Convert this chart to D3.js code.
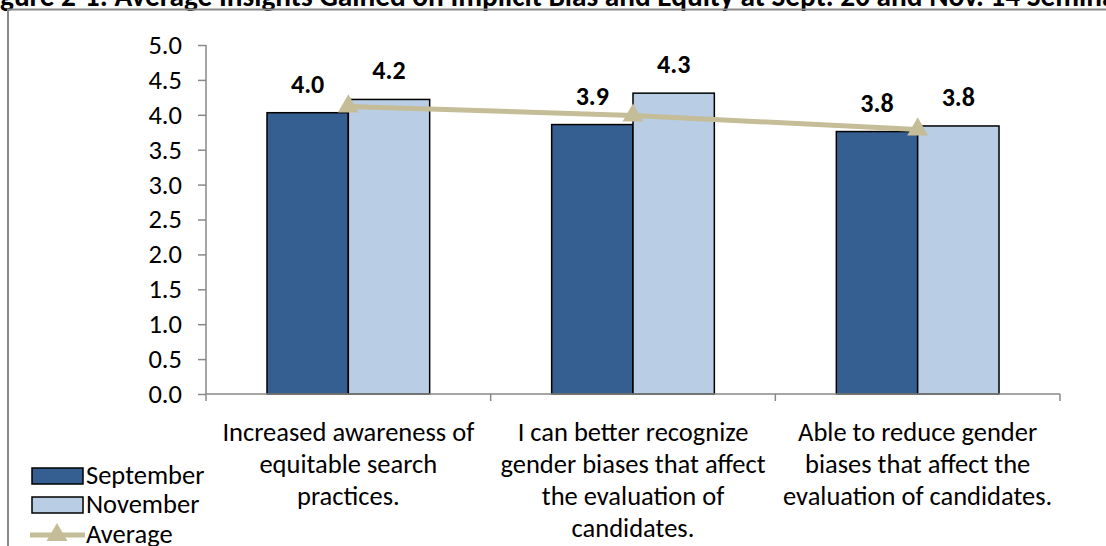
<!DOCTYPE html>
<html>
<head>
<meta charset="utf-8">
<script src="https://cdn.jsdelivr.net/npm/d3@7/dist/d3.min.js"></script>
<style>
  html, body { margin: 0; padding: 0; background: #fff; }
  svg { display: block; }
  text { font-family: Carlito, Calibri, Lato, "Open Sans", sans-serif; fill: #000; }
</style>
</head>
<body>
<svg id="chart" width="1106" height="546"></svg>
<script>
// Survey items (category axis)
const categories = [
  ["Increased awareness of", "equitable search", "practices."],
  ["I can better recognize", "gender biases that affect", "the evaluation of", "candidates."],
  ["Able to reduce gender", "biases that affect the", "evaluation of candidates."]
];
const seriesNames = ["September", "November", "Average"];
const september = [4.03, 3.86, 3.76];
const november  = [4.22, 4.31, 3.84];
const average   = [4.12, 3.99, 3.79];
const yTicks = [0, 0.5, 1, 1.5, 2, 2.5, 3, 3.5, 4, 4.5, 5];
const titleText = "Figure 2-1: Average Insights Gained on Implicit Bias and Equity at Sept. 20 and Nov. 14 Seminars";

const colors = { sep: "#365F91", nov: "#B9CDE5", avg: "#C4BD97", axis: "#898989" };
const fs = { title: 29.3, tick: 26.5, cat: 26.5, value: 26, legend: 26.5 };

const svg = d3.select("#chart");
const plot = { left: 206, right: 1060, top: 45, bottom: 394 };

// Title (runs past the top and sides of the frame)
const title = svg.append("text")
  .attr("y", 6)
  .attr("font-size", fs.title)
  .attr("font-weight", "bold")
  .text(titleText);
const probe = svg.append("text").attr("font-size", fs.title).attr("font-weight", "bold").text("Fi");
const cut = probe.node().getComputedTextLength();
probe.remove();
title.attr("x", -cut);

// Frame
svg.append("path")
  .attr("d", "M8,546 L8,9.5 L1106,9.5")
  .attr("fill", "none")
  .attr("stroke", colors.axis)
  .attr("stroke-width", 2);

const keys = categories.map((c, i) => "c" + i);
const x = d3.scaleBand().domain(keys).range([plot.left, plot.right]).paddingInner(0).paddingOuter(0);
const y = d3.scaleLinear().domain([0, 5]).range([plot.bottom, plot.top]);

// Bars sit in a group 1/1.75 of the band (75% gap width)
const groupW = x.bandwidth() / 1.75;
const xs = d3.scaleBand().domain(["sep", "nov"]).range([0, groupW]).padding(0);

// Y axis
const yAxis = svg.append("g")
  .attr("transform", `translate(${plot.left},0)`)
  .call(d3.axisLeft(y).tickValues(yTicks).tickSize(8).tickPadding(16).tickFormat(d3.format(".1f")));
yAxis.select(".domain").attr("stroke", colors.axis).attr("stroke-width", 1.5).attr("d", `M0,${plot.top}V${plot.bottom}`);
yAxis.selectAll(".tick line").attr("stroke", colors.axis).attr("stroke-width", 1.5);
yAxis.selectAll(".tick text").attr("font-size", fs.tick).attr("font-family", null).attr("fill", "#000");

// Bars
const groups = svg.append("g").selectAll("g")
  .data(keys)
  .join("g")
  .attr("transform", k => `translate(${x(k) + (x.bandwidth() - groupW) / 2},0)`);

const barData = (k, i) => [
  { s: "sep", v: september[i] },
  { s: "nov", v: november[i] }
];

groups.each(function (k, i) {
  const g = d3.select(this);
  g.selectAll("rect")
    .data(barData(k, i))
    .join("rect")
    .attr("x", d => xs(d.s))
    .attr("width", xs.bandwidth())
    .attr("y", d => y(d.v))
    .attr("height", d => y(0) - y(d.v))
    .attr("fill", d => colors[d.s])
    .attr("stroke", "#000")
    .attr("stroke-width", 1.5);
  g.selectAll("text.val")
    .data(barData(k, i))
    .join("text")
    .attr("class", "val")
    .attr("x", d => xs(d.s) + xs.bandwidth() / 2)
    .attr("y", d => y(d.v) - 20)
    .attr("text-anchor", "middle")
    .attr("font-size", fs.value)
    .attr("font-weight", "bold")
    .text(d => d3.format(".1f")(d.v));
});

// X axis with tick marks between categories
const xAxis = svg.append("g");
xAxis.append("line")
  .attr("x1", plot.left).attr("x2", plot.right)
  .attr("y1", y(0)).attr("y2", y(0))
  .attr("stroke", colors.axis).attr("stroke-width", 1.5);
const bounds = keys.map(k => x(k)).concat([x(keys[keys.length - 1]) + x.bandwidth()]);
xAxis.selectAll("line.tk")
  .data(bounds)
  .join("line")
  .attr("class", "tk")
  .attr("x1", d => d).attr("x2", d => d)
  .attr("y1", y(0)).attr("y2", y(0) + 7)
  .attr("stroke", colors.axis).attr("stroke-width", 1.5);

// Category labels
keys.forEach((k, i) => {
  const t = svg.append("text")
    .attr("text-anchor", "middle")
    .attr("font-size", fs.cat)
    .attr("x", x(k) + x.bandwidth() / 2)
    .attr("y", 441);
  t.selectAll("tspan")
    .data(categories[i])
    .join("tspan")
    .attr("x", x(k) + x.bandwidth() / 2)
    .attr("dy", (d, j) => j === 0 ? 0 : 32)
    .text(d => d);
});

// Average line with triangle markers
const cx = k => x(k) + x.bandwidth() / 2;
svg.append("path")
  .datum(average)
  .attr("d", d3.line().x((d, i) => cx(keys[i])).y(d => y(d)))
  .attr("fill", "none")
  .attr("stroke", colors.avg)
  .attr("stroke-width", 5)
  .attr("stroke-linejoin", "round");
svg.append("g").selectAll("path")
  .data(average)
  .join("path")
  .attr("transform", (d, i) => `translate(${cx(keys[i])},${y(d)})`)
  .attr("d", d3.symbol(d3.symbolTriangle, 190))
  .attr("fill", colors.avg);

// Legend
const legend = svg.append("g");
const rowY = [476, 505, 535];
[colors.sep, colors.nov].forEach((c, i) => {
  legend.append("rect")
    .attr("x", 32).attr("y", rowY[i] - 8)
    .attr("width", 51).attr("height", 16)
    .attr("fill", c).attr("stroke", "#000").attr("stroke-width", 1.5);
});
legend.append("line")
  .attr("x1", 30).attr("x2", 85)
  .attr("y1", rowY[2]).attr("y2", rowY[2])
  .attr("stroke", colors.avg).attr("stroke-width", 5);
legend.append("path")
  .attr("transform", `translate(57,${rowY[2]})`)
  .attr("d", d3.symbol(d3.symbolTriangle, 190))
  .attr("fill", colors.avg);
seriesNames.forEach((n, i) => {
  legend.append("text")
    .attr("x", 86).attr("y", rowY[i] + 8)
    .attr("font-size", fs.legend)
    .text(n);
});
</script>
</body>
</html>
